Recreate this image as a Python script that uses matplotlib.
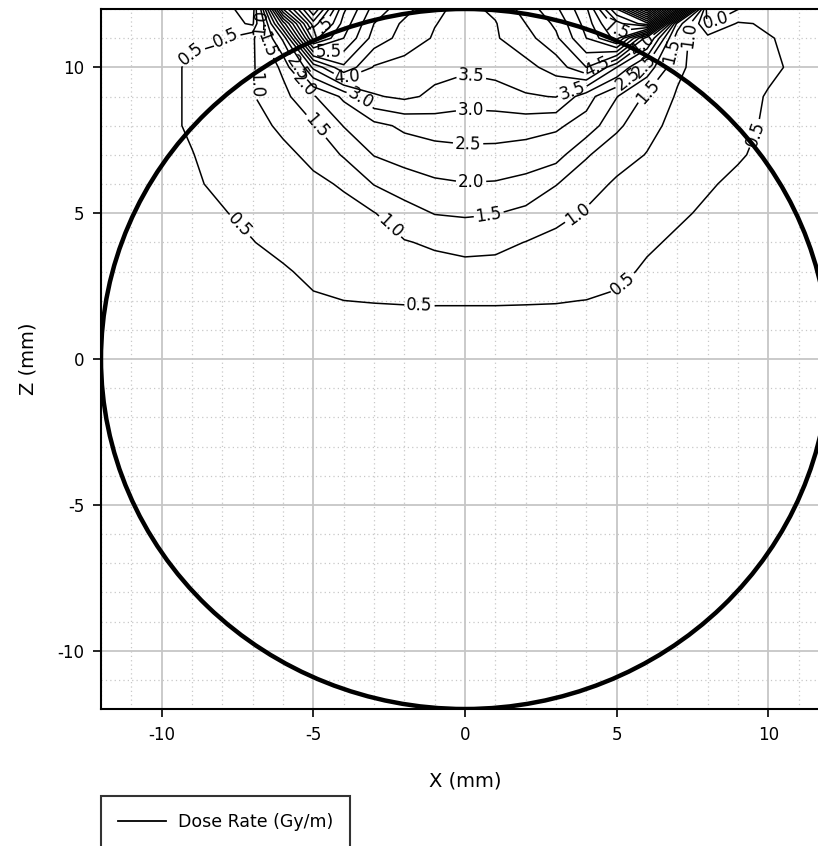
import numpy as np
import matplotlib.pyplot as plt
from matplotlib.patches import Circle
from matplotlib.lines import Line2D

plt.rcParams['axes.unicode_minus'] = False

# grid nodes (mm)
x_mm = [-12, -11, -10, -9, -8, -7, -6, -5, -4, -3, -2, -1, 0,
        1, 2, 3, 4, 5, 6, 7, 8, 9, 10, 11, 12]
z_mm = [-12, 0, 1, 2, 3, 4, 5, 6, 7, 8, 9, 10, 11, 11.5, 12]

# dose rate, one row per z (x from -12 to 12)
dose_zm12 = [0.05, 0.05, 0.05, 0.05, 0.05, 0.05, 0.05, 0.05, 0.05, 0.05, 0.05, 0.05, 0.05,
             0.05, 0.05, 0.05, 0.05, 0.05, 0.05, 0.05, 0.05, 0.05, 0.05, 0.05, 0.05]
dose_z0 = [0.10, 0.12, 0.14, 0.16, 0.18, 0.20, 0.22, 0.24, 0.26, 0.27, 0.28, 0.29, 0.29,
           0.29, 0.28, 0.27, 0.26, 0.24, 0.22, 0.20, 0.18, 0.16, 0.14, 0.12, 0.10]
dose_z1 = [0.14, 0.17, 0.20, 0.23, 0.26, 0.29, 0.32, 0.34, 0.36, 0.37, 0.38, 0.38, 0.38,
           0.38, 0.38, 0.37, 0.36, 0.34, 0.32, 0.29, 0.26, 0.23, 0.20, 0.17, 0.14]
dose_z2 = [0.15, 0.20, 0.25, 0.30, 0.36, 0.41, 0.45, 0.48, 0.499, 0.512, 0.52, 0.525, 0.525,
           0.525, 0.52, 0.515, 0.495, 0.47, 0.44, 0.40, 0.36, 0.31, 0.26, 0.20, 0.15]
dose_z3 = [0.20, 0.25, 0.30, 0.35, 0.40, 0.44, 0.48, 0.54, 0.62, 0.71, 0.78, 0.82, 0.84,
           0.84, 0.81, 0.76, 0.67, 0.55, 0.47, 0.43, 0.39, 0.35, 0.30, 0.25, 0.20]
dose_z4 = [0.24, 0.30, 0.36, 0.42, 0.46, 0.495, 0.55, 0.66, 0.78, 0.89, 0.97, 1.07, 1.16,
           1.12, 0.99, 0.86, 0.72, 0.60, 0.53, 0.47, 0.42, 0.37, 0.32, 0.27, 0.22]
dose_z5 = [0.28, 0.35, 0.41, 0.46, 0.49, 0.54, 0.66, 0.78, 0.86, 0.98, 1.30, 1.52, 1.56,
           1.52, 1.38, 1.15, 0.95, 0.80, 0.65, 0.53, 0.47, 0.42, 0.37, 0.31, 0.26]
dose_z6 = [0.32, 0.39, 0.44, 0.48, 0.53, 0.64, 0.78, 0.90, 1.05, 1.52, 1.75, 1.92, 1.98,
           1.96, 1.85, 1.52, 1.20, 0.93, 0.72, 0.60, 0.52, 0.46, 0.41, 0.35, 0.30]
dose_z7 = [0.36, 0.42, 0.46, 0.495, 0.56, 0.70, 0.88, 1.12, 1.55, 2.02, 2.20, 2.30, 2.35,
           2.34, 2.28, 2.20, 1.55, 1.20, 0.98, 0.80, 0.65, 0.52, 0.45, 0.39, 0.33]
dose_z8 = [0.38, 0.43, 0.46, 0.52, 0.62, 0.82, 1.10, 1.45, 2.02, 2.35, 2.60, 2.72, 2.76,
           2.75, 2.70, 2.58, 2.30, 1.60, 1.15, 0.85, 0.70, 0.56, 0.47, 0.40, 0.35]
dose_z9 = [0.37, 0.41, 0.46, 0.52, 0.72, 0.97, 1.35, 1.95, 2.60, 3.45, 3.60, 3.40, 3.20,
           3.25, 3.45, 3.52, 2.70, 2.02, 1.40, 0.95, 0.75, 0.60, 0.48, 0.42, 0.37]
dose_z10 = [0.38, 0.42, 0.46, 0.52, 0.72, 0.95, 1.60, 3.60, 4.90, 3.95, 3.80, 3.65, 3.60,
            3.70, 3.85, 4.20, 5.00, 3.50, 2.30, 1.10, 0.75, 0.62, 0.55, 0.45, 0.40]
dose_z11 = [0.37, 0.40, 0.45, 0.48, 0.45, 0.90, 2.60, 7.20, 6.00, 4.80, 4.30, 3.95, 3.75,
            3.95, 4.30, 4.90, 6.00, 7.20, 4.20, 1.20, 0.65, 0.62, 0.52, 0.42, 0.38]
dose_z11_5 = [0.35, 0.38, 0.42, 0.45, 0.30, -0.10, 4.20, 8.30, 6.30, 5.00, 4.40, 4.02, 3.80,
              3.97, 4.50, 5.10, 6.20, 7.80, 8.80, 1.80, -0.05, 0.55, 0.45, 0.40, 0.37]
dose_z12 = [0.30, 0.32, 0.35, 0.30, 0.20, -0.30, 6.50, 9.50, 6.60, 5.30, 4.70, 4.10, 3.85,
            4.10, 4.70, 5.40, 6.40, 9.00, 12.5, 6.50, -0.30, -0.02, 0.30, 0.35, 0.35]

dose = np.array([dose_zm12, dose_z0, dose_z1, dose_z2, dose_z3, dose_z4, dose_z5,
                 dose_z6, dose_z7, dose_z8, dose_z9, dose_z10, dose_z11,
                 dose_z11_5, dose_z12])

levels = np.arange(0.0, 13.0, 0.5)

# where the reference puts its contour labels
label_spots = [(0.2, 9.7), (0.2, 8.55), (0.1, 7.4), (0.2, 6.05), (0.8, 4.8),
               (-2.6, 4.4), (3.7, 5.0), (-7.5, 4.5), (-1.5, 1.85), (5.2, 2.6),
               (9.4, 7.8), (-9.5, 10.8), (-8.1, 11.4), (-6.8, 11.55), (-6.7, 10.7),
               (-7.2, 9.4), (-5.0, 7.9), (-5.4, 9.3), (-5.5, 10.0), (-3.9, 9.7),
               (-3.4, 9.0), (-4.5, 10.5), (-4.8, 11.4), (3.5, 9.3), (4.35, 10.0),
               (4.9, 11.2), (5.3, 9.7), (5.9, 10.1), (5.9, 10.7), (6.0, 9.2),
               (7.0, 10.5), (7.3, 11.1), (8.3, 11.55)]

fig = plt.figure(figsize=(8.18, 8.46), dpi=100)
ax = fig.add_axes([101 / 818, 1 - 709 / 846, 728 / 818, 700 / 846])

ax.set_xlim(-12, 12)
ax.set_ylim(-12, 12)
ax.set_xticks([-10, -5, 0, 5, 10])
ax.set_yticks([-10, -5, 0, 5, 10])
ax.set_xticks(np.arange(-12, 13, 1), minor=True)
ax.set_yticks(np.arange(-12, 13, 1), minor=True)
ax.grid(which='major', color='#c6c6c6', linewidth=1.3)
ax.grid(which='minor', color='#c8c8c8', linewidth=0.9, linestyle=(0, (1, 2.5)))
ax.set_axisbelow(True)
ax.tick_params(which='minor', length=0)
ax.tick_params(which='major', direction='out', length=6, width=1.2,
               labelsize=12, pad=6)
for s in ax.spines.values():
    s.set_linewidth(1.5)

cs = ax.contour(x_mm, z_mm, dose, levels=levels, colors='black', linewidths=1.1)
ax.clabel(cs, fmt='%.1f', fontsize=12, inline=True, inline_spacing=2,
          manual=label_spots)

ax.add_patch(Circle((0, 0), 12, fill=False, edgecolor='black', linewidth=3.2,
                    zorder=5))

ax.set_xlabel('X (mm)', fontsize=14, labelpad=20)
ax.set_ylabel('Z (mm)', fontsize=14, labelpad=14)

handle = Line2D([], [], color='black', linewidth=1.3)
leg = fig.legend([handle], ['Dose Rate (Gy/m)'], loc='upper left',
                 bbox_to_anchor=(101 / 818, 1 - 796 / 846), frameon=True,
                 fancybox=False, edgecolor='black', fontsize=12.5,
                 handlelength=2.75, handletextpad=0.66, borderpad=1.0,
                 borderaxespad=0)
leg.get_frame().set_linewidth(1.5)

fig.savefig('out.png', dpi=100)
